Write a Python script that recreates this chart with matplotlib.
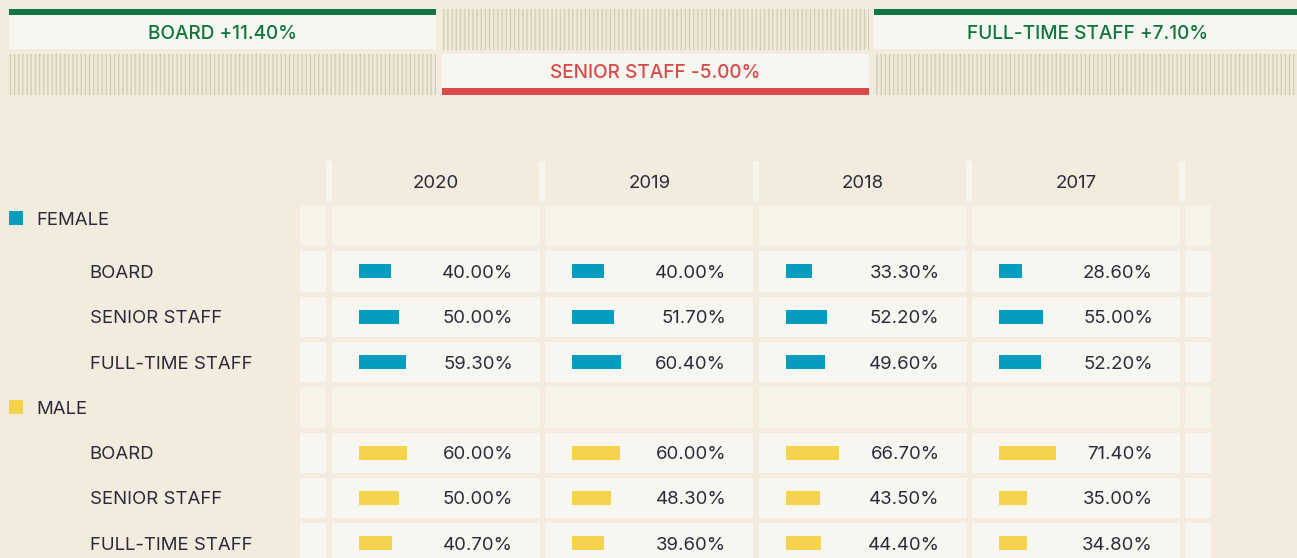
import matplotlib
matplotlib.use("Agg")
import matplotlib.pyplot as plt
from matplotlib.patches import Rectangle

# ---------------- data ----------------
years = ["2020", "2019", "2018", "2017"]
groups = ["FEMALE", "MALE"]
roles = ["BOARD", "SENIOR STAFF", "FULL-TIME STAFF"]
female = [
    [40.0, 40.0, 33.3, 28.6],   # board
    [50.0, 51.7, 52.2, 55.0],   # senior staff
    [59.3, 60.4, 49.6, 52.2],   # full-time staff
]
male = [
    [60.0, 60.0, 66.7, 71.4],
    [50.0, 48.3, 43.5, 35.0],
    [40.7, 39.6, 44.4, 34.8],
]
change_labels = ["BOARD", "SENIOR STAFF", "FULL-TIME STAFF"]
change_values = [11.40, -5.00, 7.10]

# ---------------- style ----------------
BG = "#f3ecde"
CELL = "#f8f6f0"
GROUP_CELL = "#f6f3e8"
SEP = "#f8f5ec"
TEXT = "#2b2a3a"
GREEN = "#0e763e"
RED = "#d84a4a"
HATCH_BG = "#efe9d9"
HATCH_FG = "#d4ceb7"
BAR_COLORS = {"FEMALE": "#059dbf", "MALE": "#f5d34c"}
FONT = ["Inter", "DejaVu Sans"]
FS = 13.4
FS_TITLE = 13.7
DY = 2.0  # baseline nudge (pixels, downward)

plt.rcParams["font.family"] = FONT
plt.rcParams["hatch.linewidth"] = 1.0

W, H = 1297, 558
fig = plt.figure(figsize=(W / 100, H / 100), dpi=100, facecolor=BG)
ax = fig.add_axes([0, 0, 1, 1])
ax.set_xlim(0, W)
ax.set_ylim(H, 0)
ax.axis("off")
ax.set_facecolor(BG)

# ---------------- top change boxes ----------------
box_x = [9, 442, 874]
box_w = [427, 427, 428]
row_top = [9, 54]
box_h = 40
bar_h = 6
for i, (lab, val) in enumerate(zip(change_labels, change_values)):
    pos = val >= 0
    filled_row = 0 if pos else 1
    hatch_row = 1 - filled_row
    color = GREEN if pos else RED
    x0 = box_x[i]
    # hatched placeholder
    ax.add_patch(Rectangle((x0, row_top[hatch_row]), box_w[i], box_h + 1,
                           facecolor=HATCH_BG, edgecolor=HATCH_FG, hatch="||||",
                           linewidth=0, zorder=1))
    y0 = row_top[filled_row]
    ax.add_patch(Rectangle((x0, y0), box_w[i], box_h, facecolor=CELL,
                           edgecolor="none", zorder=1))
    if pos:
        ax.add_patch(Rectangle((x0, y0), box_w[i], bar_h, facecolor=color,
                               edgecolor="none", zorder=2))
        ty = y0 + bar_h + (box_h - bar_h) / 2
    else:
        ax.add_patch(Rectangle((x0, y0 + box_h - bar_h), box_w[i], bar_h + 1,
                               facecolor=color, edgecolor="none", zorder=2))
        ty = y0 + (box_h - bar_h) / 2
    ax.text(x0 + box_w[i] / 2, ty + DY, f"{lab} {val:+.2f}%", color=color,
            fontsize=FS_TITLE, fontweight="medium", ha="center", va="center", zorder=3)

# ---------------- table ----------------
col_left0 = 332
col_pitch = 213.3
cell_w = 208
row_top0 = 206
row_pitch = 45.3
row_h = 40.3
bar_offset = 27
bar_height = 14
px_per_pct = 0.8
value_right = 181

# header separators and year labels
for i in range(len(years) + 1):
    ax.add_patch(Rectangle((326 + i * col_pitch, 161), 6, 40, facecolor=SEP,
                           edgecolor="none", zorder=1))
for j, yr in enumerate(years):
    ax.text(col_left0 + j * col_pitch + cell_w / 2, 181 + DY, yr, color=TEXT,
            fontsize=FS, ha="center", va="center")

rows = []
for g, data in zip(groups, [female, male]):
    rows.append(("group", g, None))
    for r, vals in zip(roles, data):
        rows.append(("data", g, (r, vals)))

group_label_shift = {"FEMALE": -8, "MALE": 0}

for k, (kind, g, payload) in enumerate(rows):
    top = row_top0 + k * row_pitch
    cy = top + row_h / 2
    fc = GROUP_CELL if kind == "group" else CELL
    # small side cells
    ax.add_patch(Rectangle((300, top), 26, row_h, facecolor=fc, edgecolor="none", zorder=1))
    ax.add_patch(Rectangle((1185, top), 26, row_h, facecolor=fc, edgecolor="none", zorder=1))
    for j in range(len(years)):
        ax.add_patch(Rectangle((col_left0 + j * col_pitch, top), cell_w, row_h,
                               facecolor=fc, edgecolor="none", zorder=1))
    if kind == "group":
        ly = cy + group_label_shift[g]
        ax.add_patch(Rectangle((9, ly - 7), 14, 14, facecolor=BAR_COLORS[g],
                               edgecolor="none", zorder=2))
        ax.text(36, ly + DY, g, color=TEXT, fontsize=FS, ha="left", va="center")
    else:
        role, vals = payload
        ax.text(89.5, cy + DY, role, color=TEXT, fontsize=FS, ha="left", va="center")
        lefts = [col_left0 + j * col_pitch + bar_offset for j in range(len(vals))]
        ax.barh([cy] * len(vals), [v * px_per_pct for v in vals], left=lefts,
                height=bar_height, color=BAR_COLORS[g], zorder=2)
        for j, v in enumerate(vals):
            ax.text(col_left0 + j * col_pitch + value_right, cy + DY, f"{v:.2f}%",
                    color=TEXT, fontsize=FS, ha="right", va="center", zorder=3)

fig.savefig("out.png", dpi=100, facecolor=BG)
